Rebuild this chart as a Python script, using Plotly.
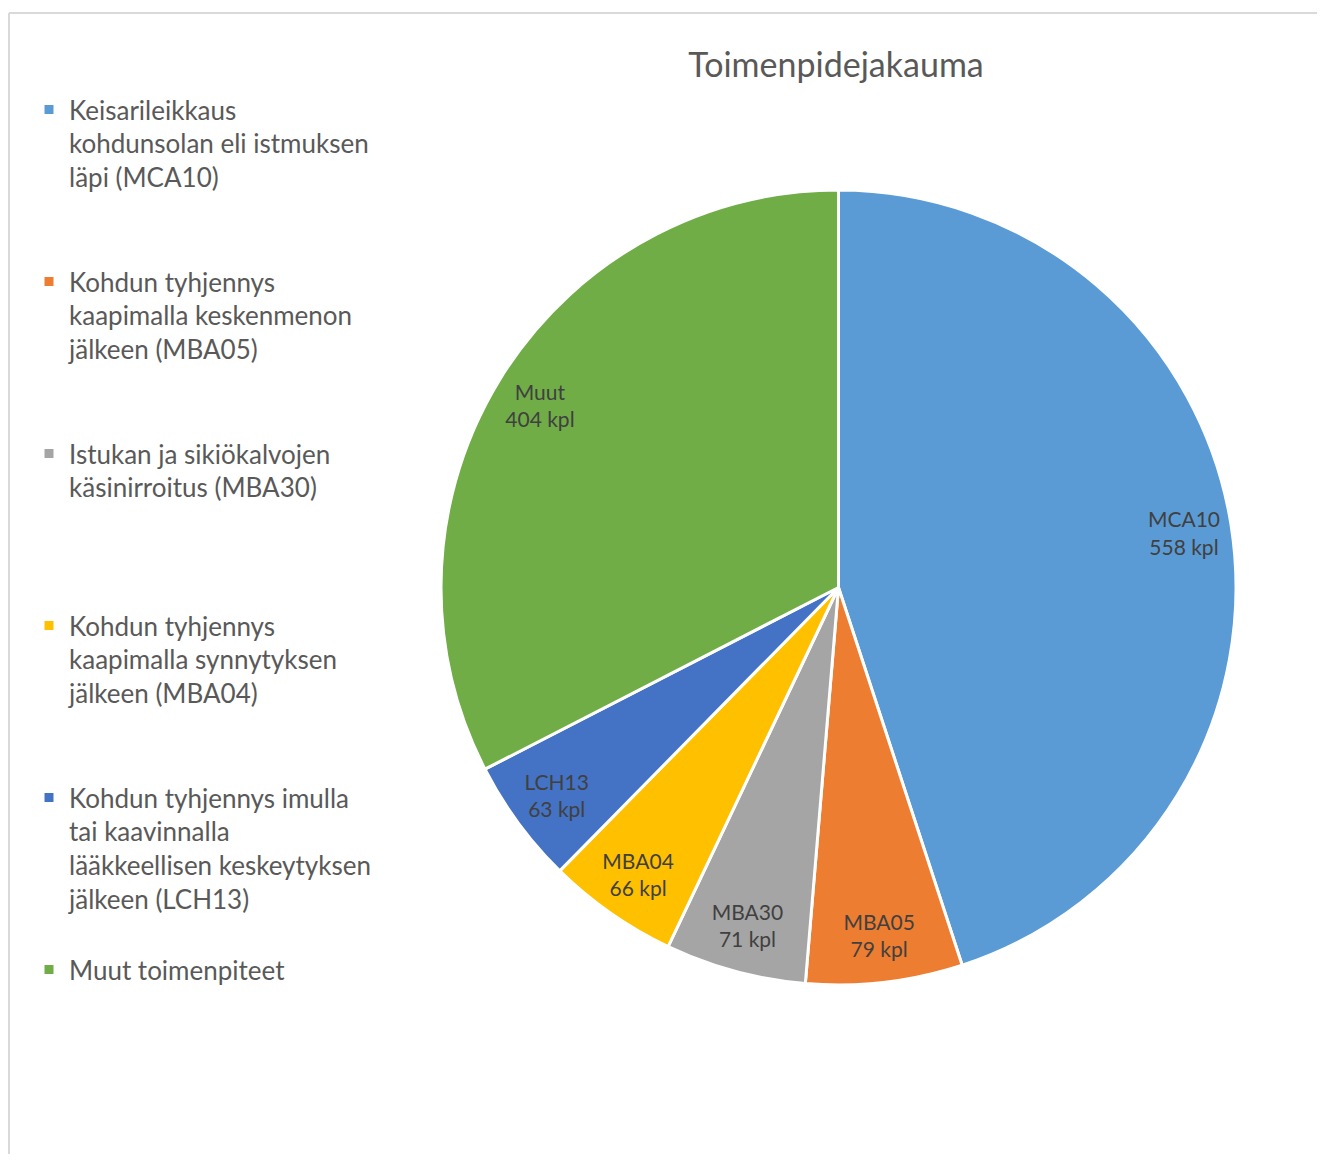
import plotly.graph_objects as go

# Data
codes = ["MCA10", "MBA05", "MBA30", "MBA04", "LCH13", "Muut"]
values = [558, 79, 71, 66, 63, 404]
legend_names = [
    "Keisarileikkaus<br>kohdunsolan eli istmuksen<br>läpi (MCA10)<br> <br> ",
    "Kohdun tyhjennys<br>kaapimalla keskenmenon<br>jälkeen (MBA05)<br> <br> ",
    "Istukan ja sikiökalvojen<br>käsinirroitus (MBA30)<br> <br> <br> ",
    "Kohdun tyhjennys<br>kaapimalla synnytyksen<br>jälkeen (MBA04)<br> <br> ",
    "Kohdun tyhjennys imulla<br>tai kaavinnalla<br>lääkkeellisen keskeytyksen<br>jälkeen (LCH13)<br> ",
    "Muut toimenpiteet",
]
colors = ["#5B9BD5", "#ED7D31", "#A5A5A5", "#FFC000", "#4472C4", "#70AD47"]
title_text = "Toimenpidejakauma"

W, H = 1309, 1146
FONT = "Lato"
dom = dict(x=[433 / W, 1228 / W], y=[1 - 977 / H, 1 - 182 / H])

fig = go.Figure()
# coloured slices
fig.add_trace(
    go.Pie(
        labels=legend_names,
        values=values,
        textinfo="none",
        sort=False,
        direction="clockwise",
        rotation=0,
        marker=dict(colors=colors, line=dict(color="white", width=3)),
        domain=dom,
        hoverinfo="skip",
    )
)
# transparent ring carrying the data labels near the outer edge
fig.add_trace(
    go.Pie(
        labels=legend_names,
        values=values,
        text=codes,
        texttemplate="%{text}<br>%{value} kpl",
        textposition="inside",
        insidetextorientation="horizontal",
        textfont=dict(family=FONT, size=21, color="#404040"),
        sort=False,
        direction="clockwise",
        rotation=0,
        hole=0.76,
        marker=dict(colors=["rgba(0,0,0,0)"] * len(values), line=dict(width=0)),
        domain=dom,
        hoverinfo="skip",
        showlegend=False,
    )
)

fig.update_layout(
    width=W,
    height=H,
    margin=dict(l=0, r=0, t=0, b=0),
    paper_bgcolor="white",
    plot_bgcolor="white",
    font=dict(family=FONT, color="#595959"),
    title=dict(
        text=title_text,
        x=828 / W,
        xanchor="center",
        y=1 - 57 / H,
        yanchor="middle",
        font=dict(family=FONT, size=34, color="#595959"),
    ),
    legend=dict(
        x=21 / W,
        xanchor="left",
        y=1 - 78 / H,
        yanchor="top",
        valign="top",
        font=dict(family=FONT, size=26, color="#595959"),
        traceorder="normal",
        itemclick=False,
        itemdoubleclick=False,
    ),
    showlegend=True,
    shapes=[
        dict(type="line", xref="paper", yref="paper", x0=1 / W, x1=1.0, y0=1 - 5 / H, y1=1 - 5 / H,
             line=dict(color="#D9D9D9", width=2)),
        dict(type="line", xref="paper", yref="paper", x0=1 / W, x1=1 / W, y0=0, y1=1 - 5 / H,
             line=dict(color="#D9D9D9", width=2)),
    ],
)

fig.write_html("out.html")
